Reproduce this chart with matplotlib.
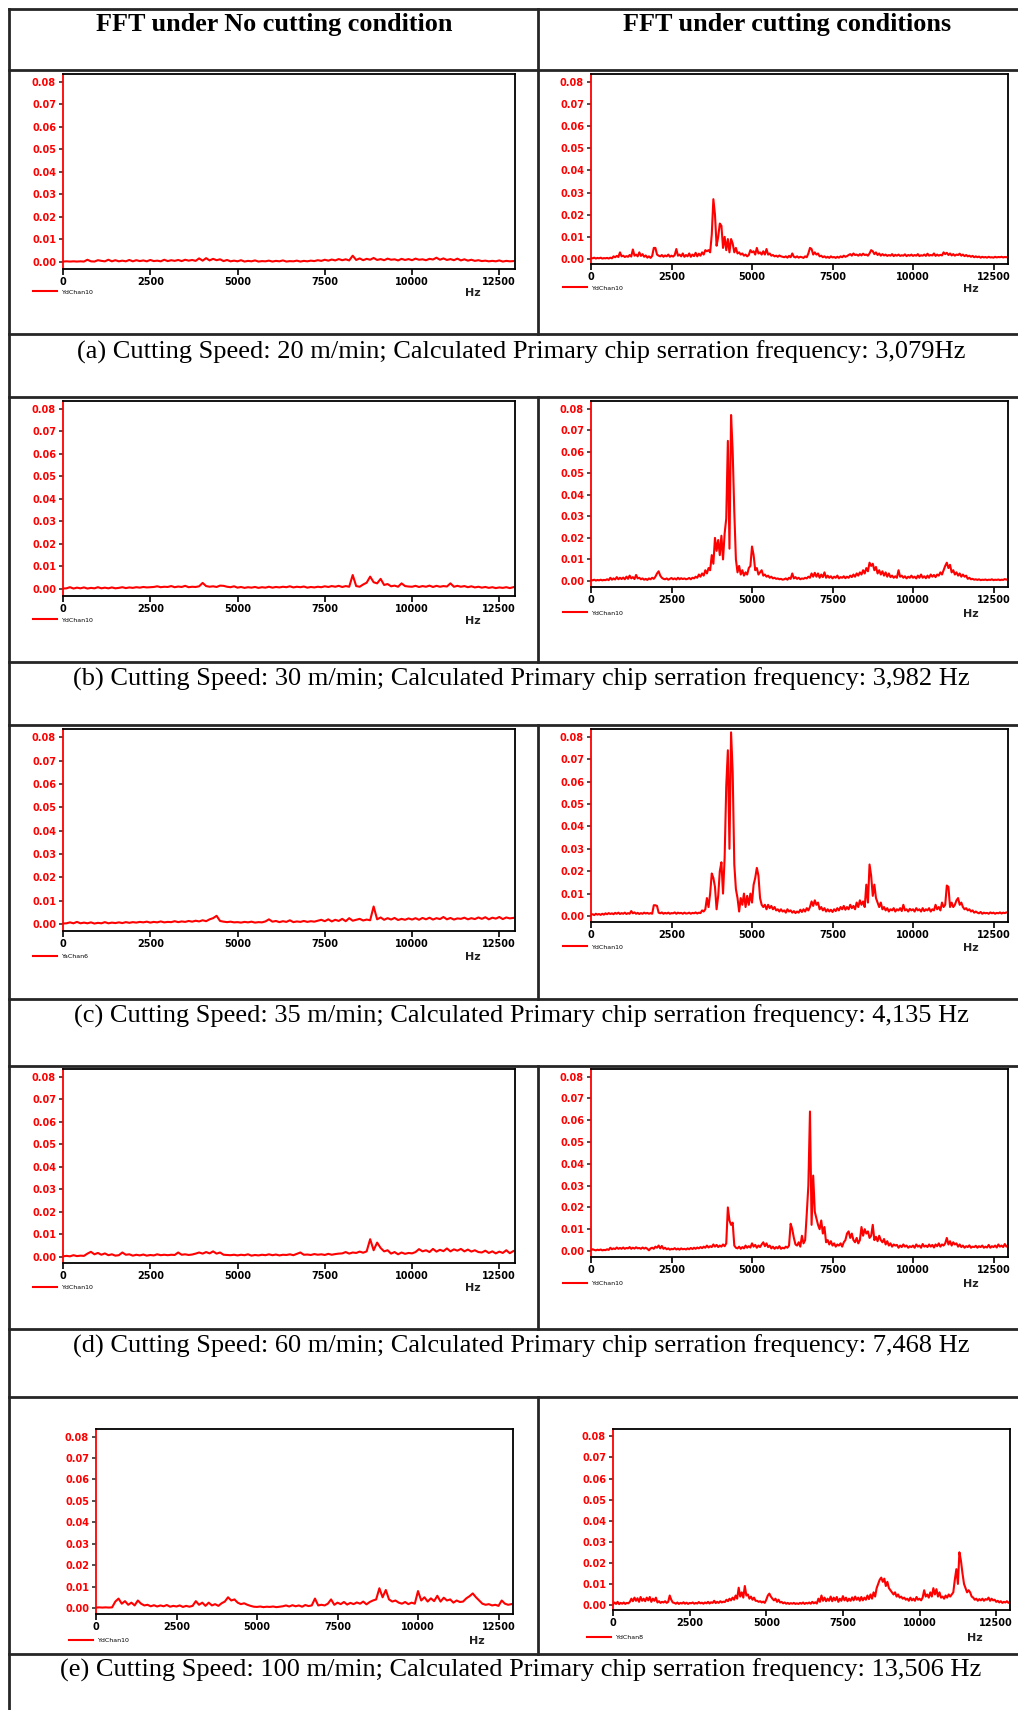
import numpy as np
import matplotlib
matplotlib.use("Agg")
import matplotlib.pyplot as plt
from matplotlib.lines import Line2D

W, H = 1018, 1710
RED = "#ff0000"
GRID = "#262626"

# FFT bins (Hz)
freq_100 = np.arange(0, 13000, 100)
freq_50 = np.arange(0, 13000, 50)

# amplitudes, in units of 0.001
# --- no cutting, 100 Hz bins ---
amp_a_idle = [
    0.2, 0.3, 0.2, 0.3, 0.2, 0.3, 0.2, 1.0, 0.3, 0.2,
    0.8, 0.5, 0.3, 1.0, 0.3, 0.8, 0.3, 0.6, 0.3, 0.9,
    0.3, 0.8, 0.4, 0.7, 0.3, 0.9, 0.4, 0.6, 0.3, 1.0,
    0.4, 0.8, 0.5, 0.9, 0.4, 1.0, 0.6, 0.9, 0.5, 1.6,
    0.6, 1.7, 0.7, 1.4, 0.8, 1.2, 0.4, 0.9, 0.3, 0.6,
    0.3, 0.8, 0.2, 0.5, 0.3, 0.7, 0.2, 0.4, 0.3, 0.6,
    0.2, 0.5, 0.3, 0.7, 0.2, 0.4, 0.3, 0.6, 0.2, 0.5,
    0.3, 0.6, 0.4, 0.8, 0.5, 1.0, 0.6, 1.1, 0.7, 1.3,
    0.8, 1.2, 0.7, 2.8, 0.9, 1.6, 0.8, 1.4, 1.0, 1.8,
    0.9, 1.3, 0.8, 1.5, 1.0, 1.2, 0.7, 1.4, 0.9, 1.3,
    0.8, 1.5, 1.0, 1.2, 0.8, 1.4, 1.1, 1.9, 1.0, 1.6,
    0.9, 1.3, 0.8, 1.5, 0.7, 1.2, 0.6, 1.0, 0.5, 0.8,
    0.4, 0.6, 0.3, 0.5, 0.3, 0.7, 0.2, 0.5, 0.3, 0.4]
amp_b_idle = [
    0.2, 0.3, 0.8, 0.2, 0.6, 0.3, 0.7, 0.2, 0.5, 0.3,
    0.8, 0.3, 0.6, 0.3, 0.7, 0.3, 0.5, 0.8, 0.4, 0.7,
    0.5, 0.8, 0.6, 0.9, 0.7, 0.8, 0.9, 1.2, 0.8, 1.0,
    0.9, 1.3, 0.8, 1.1, 0.9, 1.4, 0.8, 1.0, 0.9, 1.2,
    2.7, 1.3, 1.0, 1.2, 0.9, 1.5, 1.4, 1.0, 0.8, 1.2,
    0.6, 0.9, 0.5, 0.8, 0.6, 0.9, 0.5, 0.8, 0.6, 1.0,
    0.6, 0.9, 0.7, 1.0, 0.8, 1.2, 0.7, 1.0, 0.8, 1.1,
    0.6, 0.9, 0.7, 1.0, 0.8, 1.2, 0.9, 1.3, 1.0, 1.4,
    0.9, 1.3, 1.0, 6.2, 1.3, 1.0, 2.0, 2.8, 5.5, 3.0,
    2.5, 4.5, 1.8, 2.2, 1.2, 1.5, 1.0, 2.5, 1.3, 1.1,
    1.0, 1.4, 0.9, 1.3, 1.0, 1.5, 0.9, 1.4, 1.0, 1.3,
    1.1, 2.5, 1.0, 1.4, 1.0, 1.3, 0.8, 1.2, 0.7, 1.0,
    0.6, 0.9, 0.5, 0.8, 0.4, 0.7, 0.5, 0.8, 0.4, 0.8]
amp_c_idle = [
    0.2, 0.3, 0.7, 0.3, 0.9, 0.3, 0.6, 0.3, 0.7, 0.2,
    0.5, 0.3, 0.8, 0.3, 0.6, 0.4, 0.7, 0.4, 0.8, 0.5,
    0.8, 0.6, 0.9, 0.7, 1.0, 0.6, 0.9, 0.7, 1.1, 0.7,
    0.9, 0.8, 1.2, 0.8, 1.1, 0.9, 1.3, 1.0, 1.4, 1.1,
    1.6, 1.2, 2.0, 2.5, 3.5, 1.3, 1.0, 0.8, 1.0, 0.7,
    0.8, 0.6, 0.9, 0.7, 1.0, 0.6, 0.8, 0.7, 1.1, 2.0,
    1.0, 1.3, 0.8, 1.2, 0.9, 1.6, 0.8, 1.1, 0.9, 1.3,
    0.9, 1.2, 1.0, 1.4, 1.8, 1.2, 2.0, 1.1, 1.8, 1.3,
    2.2, 1.2, 2.5, 1.4, 1.8, 2.2, 1.5, 1.9, 1.6, 7.5,
    2.0, 2.8, 1.8, 2.5, 1.9, 2.6, 1.7, 2.2, 1.8, 2.4,
    1.9, 2.5, 1.8, 2.6, 2.0, 2.7, 1.9, 2.5, 2.1, 3.0,
    2.0, 2.6, 1.9, 2.4, 2.2, 2.7, 2.0, 2.5, 2.1, 2.8,
    2.2, 2.9, 2.0, 2.7, 2.3, 3.0, 2.1, 2.8, 2.4, 2.6]
amp_d_idle = [
    0.3, 0.5, 0.3, 0.8, 0.4, 0.6, 0.5, 1.5, 2.3, 1.2,
    1.8, 1.0, 1.6, 0.8, 1.2, 0.6, 0.8, 2.0, 1.0, 1.2,
    0.6, 1.0, 0.7, 1.1, 0.6, 0.9, 0.7, 1.2, 0.8, 1.0,
    0.8, 1.0, 0.9, 2.0, 1.0, 1.2, 0.9, 1.1, 1.5, 2.0,
    1.5, 2.2, 1.6, 2.5, 1.5, 2.0, 1.0, 0.9, 0.8, 1.0,
    0.7, 1.0, 0.8, 1.2, 0.6, 0.9, 0.7, 1.0, 0.8, 1.2,
    0.8, 1.1, 0.7, 1.0, 0.9, 1.2, 0.8, 1.4, 2.0, 1.0,
    1.1, 0.9, 1.3, 1.0, 1.2, 0.9, 1.4, 1.0, 1.3, 1.5,
    1.6, 2.2, 1.5, 2.0, 1.8, 2.4, 1.9, 2.5, 7.9, 3.0,
    6.4, 4.0, 2.5, 3.0, 1.5, 2.2, 1.2, 2.0, 1.4, 1.8,
    1.6, 2.2, 3.5, 2.5, 3.0, 2.2, 3.6, 2.4, 3.2, 2.6,
    3.8, 2.5, 3.4, 2.8, 3.6, 2.5, 3.3, 2.4, 3.0, 2.2,
    2.0, 2.8, 1.8, 2.5, 1.6, 2.4, 1.8, 3.0, 1.7, 2.6]
amp_e_idle = [
    0.2, 0.3, 0.2, 0.3, 0.2, 0.3, 3.0, 4.4, 2.0, 3.2,
    1.5, 2.5, 1.2, 3.5, 2.0, 1.2, 1.5, 0.8, 1.3, 0.7,
    1.2, 0.8, 1.4, 0.6, 1.0, 0.7, 1.2, 0.5, 1.0, 0.6,
    1.0, 3.2, 1.5, 2.5, 1.0, 2.5, 1.2, 1.8, 1.0, 2.2,
    3.0, 5.0, 3.5, 4.0, 2.5, 1.8, 2.2, 1.5, 1.0, 0.6,
    0.5, 0.7, 0.4, 0.6, 0.5, 0.7, 0.4, 0.6, 0.8, 1.2,
    0.7, 1.3, 0.8, 1.2, 0.6, 1.4, 0.9, 1.2, 4.4, 1.2,
    1.5, 1.2, 2.0, 4.0, 1.5, 2.5, 1.8, 2.8, 1.6, 2.4,
    1.8, 2.6, 2.0, 3.0, 1.7, 2.8, 3.5, 4.0, 9.2, 5.0,
    8.4, 4.0, 3.0, 3.5, 2.5, 2.0, 2.8, 1.8, 2.5, 2.0,
    7.9, 3.5, 5.0, 3.0, 4.5, 3.2, 5.7, 3.0, 4.8, 3.5,
    4.0, 2.5, 3.5, 2.8, 3.0, 4.5, 5.5, 6.8, 5.0, 3.5,
    2.0, 1.5, 1.8, 1.2, 1.5, 1.0, 3.5, 2.0, 1.5, 1.8]

# --- cutting, 50 Hz bins ---
amp_a_cut = [
    0.5, 0.3, 0.6, 0.2, 0.5, 0.3, 0.6, 0.2, 0.4, 0.3, 0.5, 0.2, 0.6, 0.3, 1.2, 0.8, 1.4, 0.9, 3.0, 1.2,
    1.5, 0.9, 1.3, 1.0, 1.8, 1.1, 4.3, 1.5, 2.0, 1.2, 3.0, 1.4, 2.2, 1.0, 1.6, 0.6, 1.2, 0.5, 1.4, 5.0,
    5.0, 2.0, 1.5, 1.2, 1.8, 1.0, 1.6, 1.2, 2.0, 1.0, 1.5, 1.1, 1.8, 4.5, 1.5, 2.0, 1.2, 2.5, 1.0, 1.8,
    1.2, 2.5, 1.0, 2.0, 1.3, 2.8, 1.2, 2.4, 1.5, 3.0, 2.0, 4.0, 3.5, 4.0, 3.0, 11.0, 27.0, 20.0, 6.0, 10.0,
    16.0, 15.0, 5.0, 10.0, 4.0, 9.0, 3.0, 9.0, 7.0, 3.0, 5.0, 2.5, 3.0, 2.0, 2.5, 1.5, 2.0, 1.2, 1.8, 4.0,
    3.0, 3.5, 2.0, 5.0, 2.5, 3.0, 2.0, 3.5, 2.0, 4.5, 2.0, 2.5, 1.5, 1.8, 1.2, 1.5, 1.0, 1.6, 1.2, 1.0,
    0.8, 1.2, 0.6, 1.4, 0.8, 2.5, 1.0, 0.7, 1.2, 0.6, 1.0, 0.8, 0.5, 1.2, 0.8, 2.5, 5.0, 4.5, 2.0, 3.0,
    2.0, 2.5, 1.2, 1.5, 0.8, 1.2, 0.6, 1.0, 0.5, 1.2, 0.7, 0.9, 0.5, 1.0, 0.6, 1.2, 0.8, 1.5, 1.0, 1.3,
    1.8, 2.2, 1.5, 2.5, 1.8, 2.0, 1.5, 2.2, 1.6, 2.4, 1.8, 2.0, 1.5, 2.5, 4.0, 3.5, 2.2, 3.0, 1.8, 2.5,
    1.5, 2.2, 1.6, 2.0, 1.4, 1.8, 1.5, 2.2, 1.3, 1.9, 1.5, 2.0, 1.4, 1.7, 1.5, 2.1, 1.3, 1.8, 1.5, 2.0,
    1.4, 1.8, 1.5, 2.2, 1.3, 1.7, 1.5, 2.0, 1.4, 2.4, 1.5, 1.8, 1.6, 2.5, 1.4, 2.0, 1.5, 1.9, 1.6, 3.0,
    2.2, 2.8, 1.8, 2.5, 1.6, 2.2, 1.5, 2.0, 1.8, 2.4, 1.5, 2.0, 1.3, 1.8, 1.2, 1.5, 1.0, 1.4, 0.8, 1.2,
    0.8, 1.1, 0.6, 1.0, 0.7, 0.9, 0.6, 1.0, 0.7, 0.8, 0.6, 1.0, 0.7, 0.9, 0.8, 1.0, 0.7, 0.9, 0.8, 1.0]
amp_b_cut = [
    0.5, 0.3, 0.6, 0.2, 0.5, 0.3, 0.6, 0.3, 0.5, 0.4, 0.8, 0.4, 1.5, 0.6, 1.2, 0.7, 1.8, 0.8, 1.5, 0.9,
    1.6, 0.8, 2.0, 1.0, 2.5, 1.2, 1.8, 0.9, 2.8, 1.2, 1.5, 0.8, 1.2, 0.6, 1.0, 0.5, 1.2, 0.8, 1.5, 1.0,
    2.0, 3.5, 4.5, 2.5, 1.5, 1.0, 0.8, 1.2, 0.6, 1.0, 1.4, 0.8, 1.2, 0.7, 1.5, 0.8, 1.3, 0.9, 1.2, 0.8,
    1.0, 1.4, 0.8, 1.5, 1.2, 2.0, 1.5, 3.0, 2.0, 3.5, 2.5, 5.0, 3.5, 6.0, 5.0, 12.0, 8.0, 20.0, 14.0, 19.0,
    12.0, 21.0, 10.0, 22.0, 29.0, 65.0, 15.0, 77.0, 60.0, 32.0, 10.0, 4.0, 7.0, 3.0, 5.0, 2.5, 4.0, 3.0, 6.0, 7.0,
    16.0, 12.0, 5.0, 6.0, 3.0, 4.0, 5.0, 2.5, 3.0, 2.0, 2.5, 1.5, 2.0, 1.2, 1.5, 1.0, 1.2, 0.8, 1.0, 0.6,
    0.8, 1.2, 0.6, 1.5, 1.0, 3.5, 1.2, 1.8, 1.0, 1.5, 0.8, 1.2, 1.0, 1.5, 1.2, 2.0, 1.5, 3.5, 2.0, 3.8,
    2.0, 3.5, 1.5, 3.0, 1.8, 4.0, 1.5, 2.5, 1.5, 2.2, 1.2, 2.0, 1.5, 2.5, 1.2, 1.8, 1.5, 2.2, 1.3, 2.0,
    1.5, 2.5, 1.8, 3.0, 2.0, 3.5, 2.5, 4.0, 3.0, 5.0, 3.5, 6.0, 4.5, 8.5, 7.0, 8.0, 5.0, 6.5, 3.5, 5.0,
    3.0, 4.5, 2.5, 4.0, 2.0, 3.5, 1.8, 2.5, 1.5, 2.2, 1.5, 5.0, 2.0, 2.5, 1.5, 2.2, 1.2, 2.0, 1.5, 2.5,
    1.5, 2.0, 1.2, 2.5, 1.5, 3.0, 1.5, 2.2, 1.3, 2.5, 1.5, 3.0, 2.0, 2.8, 1.8, 3.0, 2.5, 4.0, 3.0, 5.0,
    7.0, 8.5, 6.0, 7.5, 4.0, 5.0, 3.0, 4.0, 2.5, 3.5, 2.0, 3.0, 2.0, 2.5, 1.0, 1.5, 0.8, 1.0, 0.6, 0.8,
    0.5, 0.8, 0.4, 0.6, 0.5, 0.7, 0.4, 0.6, 0.5, 0.8, 0.4, 0.6, 0.5, 0.7, 0.4, 0.6, 0.5, 0.9, 0.6, 1.0]
amp_c_cut = [
    0.5, 0.8, 0.4, 1.0, 0.6, 0.9, 0.5, 1.0, 0.6, 1.2, 0.8, 1.3, 0.9, 1.2, 0.8, 1.4, 1.0, 1.5, 0.9, 1.3,
    1.0, 1.5, 0.9, 1.3, 1.0, 2.2, 1.2, 1.6, 1.0, 1.4, 0.9, 1.3, 1.0, 1.5, 1.1, 1.4, 1.0, 1.3, 1.0, 4.8,
    4.8, 4.5, 1.5, 1.2, 1.6, 1.0, 1.4, 1.1, 1.5, 1.0, 1.3, 1.2, 1.6, 1.0, 1.5, 1.2, 1.4, 1.0, 1.5, 1.1,
    1.2, 1.5, 1.0, 1.4, 1.2, 1.6, 1.1, 1.5, 1.3, 2.5, 2.0, 3.0, 8.0, 4.0, 10.0, 19.0, 17.0, 13.0, 3.0, 9.0,
    20.0, 24.0, 10.0, 26.0, 58.0, 74.0, 30.0, 82.0, 64.0, 23.0, 12.0, 8.0, 2.0, 8.0, 5.0, 10.0, 4.0, 9.0, 5.0, 10.0,
    6.0, 14.0, 17.0, 21.5, 18.0, 8.0, 5.0, 4.0, 5.0, 3.0, 5.0, 3.5, 4.5, 3.0, 4.0, 2.5, 3.0, 2.0, 3.0, 2.0,
    2.5, 1.5, 3.0, 2.0, 2.5, 1.5, 2.2, 1.3, 2.0, 1.5, 2.8, 1.8, 3.0, 2.0, 3.5, 2.5, 4.0, 6.5, 4.5, 7.0,
    5.0, 6.0, 3.0, 4.0, 2.5, 3.5, 2.0, 3.0, 2.0, 2.8, 1.8, 3.0, 2.2, 3.5, 2.5, 4.0, 3.0, 4.5, 2.8, 4.0,
    3.0, 5.0, 3.5, 4.5, 3.0, 6.0, 4.0, 7.0, 5.0, 6.5, 4.0, 14.0, 6.0, 23.0, 18.0, 9.0, 14.0, 8.0, 6.0, 4.0,
    6.0, 3.0, 4.0, 2.5, 3.5, 2.0, 3.0, 2.5, 3.5, 2.0, 3.0, 2.5, 3.5, 2.2, 5.0, 2.5, 3.0, 2.0, 3.2, 2.5,
    3.0, 2.0, 3.5, 2.5, 3.0, 2.0, 3.5, 2.2, 3.0, 2.5, 3.5, 2.0, 3.0, 2.5, 5.0, 3.0, 4.0, 2.5, 6.0, 4.0,
    5.0, 13.6, 13.0, 4.0, 6.0, 4.0, 5.0, 7.0, 8.0, 5.0, 6.0, 4.0, 3.0, 3.5, 2.5, 3.0, 2.0, 2.5, 1.5, 2.0,
    1.5, 1.2, 1.8, 1.0, 1.5, 1.2, 1.4, 1.0, 1.6, 1.2, 1.5, 1.0, 1.4, 1.2, 1.6, 1.1, 1.5, 1.3, 1.6, 1.5]
amp_d_cut = [
    0.3, 0.8, 0.5, 0.3, 0.6, 0.4, 0.7, 0.3, 0.5, 0.4, 0.8, 0.5, 1.5, 0.8, 1.2, 0.9, 1.6, 1.0, 1.4, 1.0,
    1.6, 1.0, 1.4, 1.2, 1.8, 1.0, 1.5, 1.1, 1.7, 1.2, 1.4, 1.0, 1.6, 1.1, 1.5, 1.0, 0.3, 1.2, 1.5, 1.0,
    2.0, 1.5, 2.5, 1.2, 2.3, 1.0, 1.5, 0.8, 1.2, 0.6, 1.0, 0.8, 1.3, 0.7, 1.1, 0.6, 1.2, 0.8, 1.0, 0.7,
    1.2, 0.8, 1.4, 0.9, 1.5, 1.0, 1.6, 1.2, 1.8, 1.3, 2.0, 1.5, 2.5, 1.6, 2.2, 1.8, 3.0, 2.0, 2.8, 1.8,
    2.5, 2.0, 3.0, 2.2, 3.5, 20.0, 14.0, 12.0, 13.0, 2.5, 1.5, 1.2, 2.0, 1.0, 1.8, 1.2, 2.5, 1.5, 2.2, 1.6,
    3.5, 2.0, 2.8, 1.5, 2.5, 1.8, 3.0, 4.0, 2.2, 3.5, 1.8, 2.5, 1.2, 2.0, 1.0, 1.8, 1.2, 2.2, 1.0, 1.5,
    1.2, 2.0, 1.5, 2.5, 12.5, 10.0, 6.0, 3.0, 2.5, 4.0, 2.0, 7.0, 3.5, 5.0, 17.0, 30.0, 64.0, 12.0, 34.6, 18.0,
    15.0, 12.0, 10.0, 14.0, 8.0, 11.0, 4.0, 5.0, 3.0, 4.5, 2.5, 3.5, 2.0, 3.0, 2.5, 3.5, 2.0, 4.0, 5.0, 8.0,
    9.0, 6.0, 8.0, 5.0, 4.0, 6.0, 3.5, 5.0, 11.0, 7.0, 10.0, 8.0, 9.0, 6.0, 7.0, 12.0, 5.0, 6.5, 4.5, 7.0,
    5.0, 4.0, 5.5, 3.0, 4.5, 2.5, 3.5, 2.0, 3.0, 2.5, 2.8, 1.5, 2.5, 1.8, 3.0, 2.0, 2.5, 1.5, 2.2, 1.8,
    2.5, 1.5, 3.0, 2.0, 2.5, 1.5, 3.2, 2.0, 2.5, 1.8, 3.0, 2.0, 2.8, 1.6, 3.0, 2.2, 3.5, 2.0, 3.0, 2.5,
    3.5, 6.0, 3.0, 4.5, 2.5, 4.0, 3.0, 3.5, 2.0, 3.0, 1.8, 2.5, 1.5, 2.2, 1.8, 2.6, 1.5, 2.0, 1.8, 2.4,
    1.5, 2.2, 1.8, 2.5, 1.5, 2.0, 1.6, 2.8, 1.5, 2.2, 1.8, 2.5, 1.6, 3.0, 2.0, 2.5, 1.8, 3.2, 2.0, 2.5]
amp_e_cut = [
    0.3, 1.2, 0.5, 1.5, 0.4, 1.0, 0.6, 1.2, 0.5, 1.0, 0.8, 1.5, 3.0, 1.8, 3.5, 2.0, 3.2, 1.5, 3.8, 2.0,
    3.0, 1.8, 3.5, 2.2, 3.8, 1.5, 3.0, 2.0, 3.5, 1.2, 1.8, 1.0, 1.5, 1.2, 1.8, 1.0, 1.5, 4.5, 2.5, 1.2,
    1.0, 0.6, 1.2, 0.5, 1.0, 0.7, 1.3, 0.6, 1.1, 0.5, 1.0, 0.8, 1.2, 0.6, 1.0, 0.7, 1.4, 0.8, 1.1, 0.6,
    1.2, 0.8, 1.5, 0.7, 1.3, 1.0, 2.0, 0.9, 1.5, 1.0, 1.8, 1.2, 1.6, 1.4, 2.5, 1.8, 3.0, 2.2, 3.5, 2.5,
    4.5, 3.0, 8.2, 4.0, 6.0, 3.5, 9.0, 4.5, 5.0, 3.0, 4.0, 2.5, 3.5, 2.0, 2.0, 1.5, 1.8, 1.2, 1.6, 1.0,
    2.5, 4.5, 5.4, 4.0, 3.0, 2.2, 3.0, 1.5, 2.5, 1.2, 1.5, 0.8, 1.2, 0.6, 1.0, 0.5, 0.9, 0.6, 1.0, 0.5,
    0.8, 0.5, 1.0, 0.6, 1.2, 0.5, 1.0, 0.7, 1.2, 0.6, 1.5, 0.8, 1.3, 0.7, 3.0, 1.5, 4.5, 2.0, 3.5, 1.8,
    3.0, 2.0, 4.0, 1.8, 3.5, 2.2, 3.8, 1.5, 3.0, 2.0, 4.2, 2.2, 3.5, 1.8, 3.0, 2.0, 3.6, 2.2, 4.0, 2.5,
    3.5, 2.0, 3.8, 2.2, 3.5, 2.5, 4.5, 2.8, 5.0, 3.0, 6.0, 4.0, 8.0, 10.0, 12.0, 13.0, 11.0, 12.5, 9.0, 11.0,
    8.0, 7.0, 6.0, 5.0, 6.0, 4.0, 5.0, 3.5, 4.0, 3.0, 3.5, 2.5, 3.0, 2.0, 3.5, 2.2, 3.0, 2.0, 3.8, 2.5,
    3.0, 2.2, 3.5, 7.0, 4.0, 5.0, 3.5, 6.0, 4.0, 8.0, 5.0, 7.5, 4.0, 6.0, 3.5, 4.0, 3.0, 4.5, 3.5, 5.0,
    4.0, 5.0, 6.0, 12.0, 17.0, 10.0, 25.0, 21.0, 15.0, 10.0, 8.0, 6.0, 7.0, 6.0, 4.0, 3.5, 2.5, 3.0, 2.0, 2.8,
    2.2, 3.0, 2.0, 2.8, 2.5, 3.5, 2.0, 3.0, 2.2, 2.5, 1.5, 2.0, 1.2, 1.8, 1.0, 1.5, 1.2, 1.8, 1.0, 1.5]

headers = ["FFT under No cutting condition", "FFT under cutting conditions"]
captions = [
    "(a) Cutting Speed: 20 m/min; Calculated Primary chip serration frequency: 3,079Hz",
    "(b) Cutting Speed: 30 m/min; Calculated Primary chip serration frequency: 3,982 Hz",
    "(c) Cutting Speed: 35 m/min; Calculated Primary chip serration frequency: 4,135 Hz",
    "(d) Cutting Speed: 60 m/min; Calculated Primary chip serration frequency: 7,468 Hz",
    "(e) Cutting Speed: 100 m/min; Calculated Primary chip serration frequency: 13,506 Hz",
]
channels_idle = ["YdChan10", "YdChan10", "YaChan6", "YdChan10", "YdChan10"]
channels_cut = ["YdChan10", "YdChan10", "YdChan10", "YdChan10", "YdChan8"]
x_ticks = [0, 2500, 5000, 7500, 10000, 12500]
x_ticklabels = ["0", "2500", "5000", "7500", "10000", "12500"]
y_ticks = [0.00, 0.01, 0.02, 0.03, 0.04, 0.05, 0.06, 0.07, 0.08]
y_ticklabels = ["0.00", "0.01", "0.02", "0.03", "0.04", "0.05", "0.06", "0.07", "0.08"]

fig = plt.figure(figsize=(W / 100, H / 100), dpi=100)
fig.patch.set_facecolor("white")


def px(x, y):
    return x / W, 1 - y / H


def hline(y, x0=9, x1=1018, lw=2.0):
    fig.add_artist(Line2D([x0 / W, x1 / W], [1 - y / H, 1 - y / H], color=GRID, lw=lw))


def vline(x, y0, y1, lw=2.0):
    fig.add_artist(Line2D([x / W, x / W], [1 - y0 / H, 1 - y1 / H], color=GRID, lw=lw))


# table grid
row_lines = [9, 70, 334, 397, 662, 725, 999, 1066, 1329, 1397, 1654]
for y in row_lines:
    hline(y)
vline(9, 9, 1710)
for y0, y1 in [(9, 70), (70, 334), (397, 662), (725, 999), (1066, 1329), (1397, 1654)]:
    vline(538, y0, y1)

for x, txt in zip([274, 787], headers):
    fig.text(*px(x, 25), txt, ha="center", va="center", fontsize=18.8,
             fontweight="bold", family="Liberation Serif")

for y, txt in zip([352, 679, 1016, 1346, 1670], captions):
    fig.text(*px(521, y), txt, ha="center", va="center", fontsize=19,
             family="Liberation Serif", color="black")


def fft_panel(box, freq, amp, chan, leg, hz_x):
    x0, x1, top, zero, axis = box
    ytop = 0.0835
    ybot = -ytop * (axis - zero) / (zero - top)
    ax = fig.add_axes([x0 / W, 1 - axis / H, (x1 - x0) / W, (axis - top) / H])
    line, = ax.plot(freq, np.array(amp) * 1e-3, color=RED, lw=1.5)
    ax.set_xlim(0, 12950)
    ax.set_ylim(ybot, ytop)
    ax.set_xticks(x_ticks)
    ax.set_xticklabels(x_ticklabels)
    ax.set_yticks(y_ticks)
    ax.set_yticklabels(y_ticklabels)
    for side in ["top", "right", "bottom"]:
        ax.spines[side].set_color("black")
        ax.spines[side].set_linewidth(1.3)
    ax.spines["left"].set_color(RED)
    ax.spines["left"].set_linewidth(1.3)
    ax.tick_params(axis="y", direction="out", length=3, width=1.2, pad=2,
                   color="#333333", labelcolor=RED, labelsize=7)
    ax.tick_params(axis="x", direction="out", length=4, width=1.2, pad=2,
                   color="black", labelcolor="black", labelsize=7)
    for lbl in ax.get_xticklabels() + ax.get_yticklabels():
        lbl.set_fontweight("bold")
    lx, ly = leg
    ax.legend([line], [chan], loc="center left", bbox_to_anchor=px(lx, ly),
              bbox_transform=fig.transFigure, frameon=False, fontsize=4.5,
              handlelength=3.8, handletextpad=0.9, borderpad=0, borderaxespad=0)
    fig.text(*px(hz_x, ly + 1), "Hz", ha="center", va="center", fontsize=8,
             fontweight="bold", color="#222222")
    return ax


idle_amps = [amp_a_idle, amp_b_idle, amp_c_idle, amp_d_idle, amp_e_idle]
cut_amps = [amp_a_cut, amp_b_cut, amp_c_cut, amp_d_cut, amp_e_cut]

# pixel boxes: left, right, top, zero line, x-axis line
idle_boxes = [(63, 515, 74, 262, 269), (63, 515, 401, 589, 596), (63, 515, 729, 924, 931),
              (63, 515, 1069, 1257, 1263), (96, 513, 1429, 1608, 1614)]
cut_boxes = [(591, 1008, 74, 259, 264), (591, 1008, 401, 581, 587), (591, 1008, 729, 916, 922),
             (591, 1008, 1069, 1251, 1257), (613, 1010, 1429, 1605, 1610)]
idle_leg = [(33, 292), (33, 620), (33, 956), (33, 1287), (69, 1640)]
cut_leg = [(563, 288), (563, 613), (563, 947), (563, 1283), (587, 1637)]
idle_hz = [473, 473, 473, 473, 477]
cut_hz = [971, 971, 971, 971, 975]

for i in range(5):
    fft_panel(idle_boxes[i], freq_100, idle_amps[i], channels_idle[i], idle_leg[i], idle_hz[i])
    fft_panel(cut_boxes[i], freq_50, cut_amps[i], channels_cut[i], cut_leg[i], cut_hz[i])

fig.savefig("out.png", dpi=100, facecolor="white")
